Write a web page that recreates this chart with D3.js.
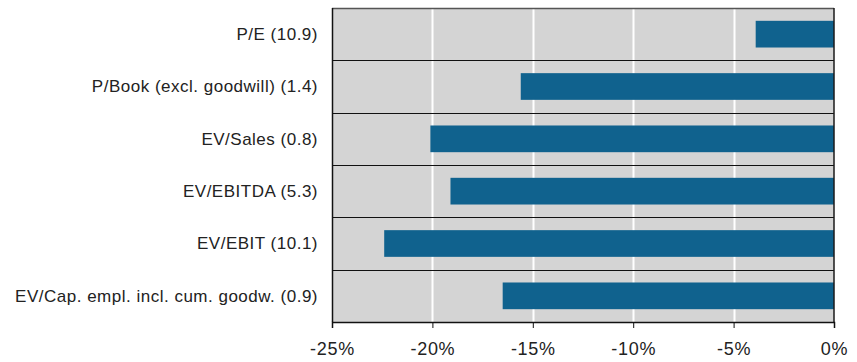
<!DOCTYPE html>
<html>
<head>
<meta charset="utf-8">
<script src="https://cdn.jsdelivr.net/npm/d3@7.9.0/dist/d3.min.js"></script>
<style>
  body { margin: 0; background: #fff; }
  svg { display: block; font-family: "Liberation Sans", Arial, sans-serif; }
</style>
</head>
<body>
<div id="chart"></div>
<script>
// multiples and their change
const categories = [
  "P/E (10.9)",
  "P/Book (excl. goodwill) (1.4)",
  "EV/Sales (0.8)",
  "EV/EBITDA (5.3)",
  "EV/EBIT (10.1)",
  "EV/Cap. empl. incl. cum. goodw. (0.9)"
];
const values = [-3.9, -15.6, -20.1, -19.1, -22.4, -16.5];
const ticks = [-25, -20, -15, -10, -5, 0];

var margin = {top: 8, right: 23, bottom: 40, left: 332},
    width = 857 - margin.left - margin.right,
    height = 362 - margin.top - margin.bottom;

var svg = d3.select("#chart")
    .append("svg")
    .attr("width", 857)
    .attr("height", 362)
    .append("g")
    .attr("transform", "translate(" + margin.left + "," + margin.top + ")");

var x = d3.scaleLinear()
    .domain([-25, 0])
    .range([0, width]);

var y = d3.scaleBand()
    .domain(categories)
    .range([0, height])
    .paddingInner(0.49)
    .paddingOuter(0.245);

var band = d3.scaleBand()
    .domain(categories)
    .range([0, height]);

// background
svg.append("rect")
    .attr("width", width)
    .attr("height", height)
    .attr("fill", "#d4d4d4");

// vertical grid
svg.selectAll(".grid")
    .data(ticks.filter(t => t > -25 && t < 0))
    .enter()
    .append("line")
    .attr("x1", d => Math.round(x(d)) + 0.5)
    .attr("x2", d => Math.round(x(d)) + 0.5)
    .attr("y1", 0)
    .attr("y2", height)
    .attr("stroke", "#fff")
    .attr("stroke-width", 2);

// bars
svg.selectAll(".bar")
    .data(values)
    .enter()
    .append("rect")
    .attr("x", d => x(d))
    .attr("y", (d, i) => y(categories[i]))
    .attr("width", d => x(0) - x(d))
    .attr("height", y.bandwidth())
    .attr("fill", "#10628e");

// separators between categories
svg.selectAll(".sep")
    .data(categories.slice(1))
    .enter()
    .append("line")
    .attr("x1", 0)
    .attr("x2", width)
    .attr("y1", d => Math.round(band(d)) + 0.5)
    .attr("y2", d => Math.round(band(d)) + 0.5)
    .attr("stroke", "#111")
    .attr("stroke-width", 1);

// top border
svg.append("line")
    .attr("x1", 0).attr("x2", width)
    .attr("y1", 0.5).attr("y2", 0.5)
    .attr("stroke", "#555")
    .attr("stroke-width", 1.5);

// zero line
svg.append("line")
    .attr("x1", x(0)).attr("x2", x(0))
    .attr("y1", 0).attr("y2", height)
    .attr("stroke", "#1a1a1a")
    .attr("stroke-width", 1.5);

// left border
svg.append("line")
    .attr("x1", 0.5).attr("x2", 0.5)
    .attr("y1", 0).attr("y2", height)
    .attr("stroke", "#111")
    .attr("stroke-width", 1.5);

// x axis
var xAxis = svg.append("g")
    .attr("transform", "translate(0," + height + ")")
    .call(d3.axisBottom(x).tickValues(ticks).tickFormat(d => d + "%").tickSize(6).tickPadding(14));
xAxis.select(".domain").attr("stroke", "#111").attr("stroke-width", 1.5);
xAxis.selectAll(".tick line").attr("stroke", "#111");
xAxis.selectAll("text")
    .attr("font-size", 18)
    .attr("letter-spacing", 0.7)
    .attr("font-family", "Liberation Sans, Arial, sans-serif")
    .attr("fill", "#222");

// category labels
svg.selectAll(".label")
    .data(categories)
    .enter()
    .append("text")
    .attr("x", -14)
    .attr("y", d => band(d) + band.bandwidth() / 2)
    .attr("dy", "0.35em")
    .attr("text-anchor", "end")
    .attr("font-size", 17)
    .attr("letter-spacing", 0.5)
    .attr("fill", "#222")
    .text(d => d);
</script>
</body>
</html>
